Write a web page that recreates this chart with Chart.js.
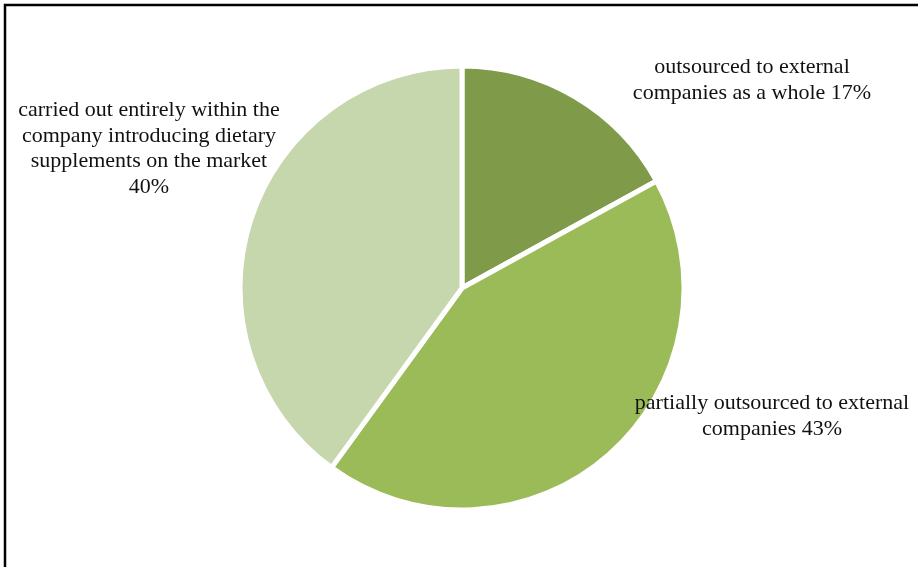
<!DOCTYPE html>
<html>
<head>
<meta charset="utf-8">
<script src="https://cdn.jsdelivr.net/npm/chart.js@4/dist/chart.umd.min.js"></script>
<style>
  html, body { margin: 0; padding: 0; background: #fff; }
  #wrap { position: relative; width: 918px; height: 567px; }
  canvas { display: block; }
</style>
</head>
<body>
<div id="wrap"><canvas id="c" width="918" height="567"></canvas></div>
<script>
const categories = [
  "outsourced to external companies as a whole",
  "partially outsourced to external companies",
  "carried out entirely within the company introducing dietary supplements on the market"
];
const shares = [17, 43, 40];
const labelLines = [
  ["outsourced to external", "companies as a whole 17%"],
  ["partially outsourced to external", "companies 43%"],
  ["carried out entirely within the", "company introducing dietary", "supplements on the market", "40%"]
];
const sliceColors = ["#7f9b4a", "#9bbb59", "#c6d6ad"];

// label anchor positions (centre of first line)
const labelPos = [
  { x: 752, y: 67 },
  { x: 772, y: 403 },
  { x: 149, y: 110 }
];

const framePlugin = {
  id: 'frame',
  beforeDraw(chart) {
    const ctx = chart.ctx;
    ctx.save();
    ctx.fillStyle = '#ffffff';
    ctx.fillRect(0, 0, chart.width, chart.height);
    ctx.strokeStyle = '#000000';
    ctx.lineWidth = 2.5;
    ctx.beginPath();
    ctx.moveTo(5, chart.height + 2);
    ctx.lineTo(5, 5);
    ctx.lineTo(chart.width + 2, 5);
    ctx.stroke();
    ctx.restore();
  }
};

const labelPlugin = {
  id: 'sliceLabels',
  afterDraw(chart) {
    const ctx = chart.ctx;
    ctx.save();
    ctx.fillStyle = '#111111';
    ctx.font = '22px "Liberation Serif", "Times New Roman", serif';
    ctx.textAlign = 'center';
    ctx.textBaseline = 'middle';
    labelLines.forEach((lines, i) => {
      const p = labelPos[i];
      lines.forEach((t, j) => ctx.fillText(t, p.x, p.y + j * 25.8));
    });
    ctx.restore();
  }
};

new Chart(document.getElementById('c'), {
  type: 'pie',
  data: {
    labels: categories,
    datasets: [{
      data: shares,
      backgroundColor: sliceColors,
      borderColor: '#ffffff',
      borderWidth: 5,
      hoverOffset: 0
    }]
  },
  options: {
    responsive: false,
    animation: false,
    radius: 222,
    layout: { padding: { left: 6, right: 0, top: 9, bottom: 0 } },
    plugins: {
      legend: { display: false },
      tooltip: { enabled: false },
      title: { display: false }
    }
  },
  plugins: [framePlugin, labelPlugin]
});
</script>
</body>
</html>
